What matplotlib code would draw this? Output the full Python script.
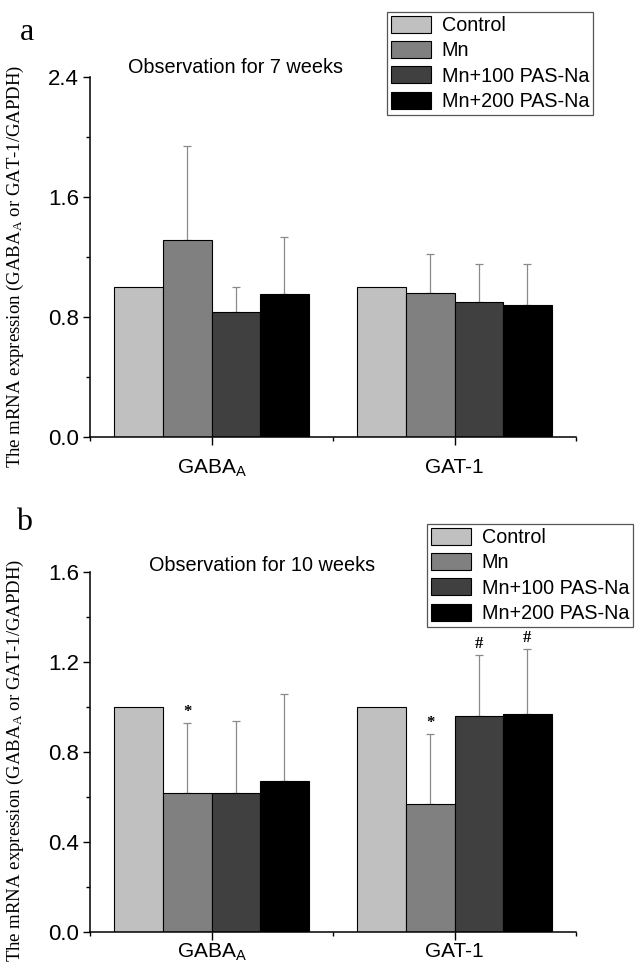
import numpy as np
import matplotlib.pyplot as plt
from matplotlib.ticker import MultipleLocator

groups = [r"GABA$_\mathregular{A}$", "GAT-1"]
treatments = ["Control", "Mn", "Mn+100 PAS-Na", "Mn+200 PAS-Na"]
colors = ["#c0c0c0", "#808080", "#404040", "#000000"]

# 7 weeks: mean and upper error per treatment, [GABA_A, GAT-1]
mean_7w = {
    "Control": [1.00, 1.00],
    "Mn": [1.31, 0.96],
    "Mn+100 PAS-Na": [0.83, 0.90],
    "Mn+200 PAS-Na": [0.95, 0.88],
}
err_7w = {
    "Control": [0.0, 0.0],
    "Mn": [0.63, 0.26],
    "Mn+100 PAS-Na": [0.17, 0.25],
    "Mn+200 PAS-Na": [0.38, 0.27],
}

# 10 weeks
mean_10w = {
    "Control": [1.00, 1.00],
    "Mn": [0.62, 0.57],
    "Mn+100 PAS-Na": [0.62, 0.96],
    "Mn+200 PAS-Na": [0.67, 0.97],
}
err_10w = {
    "Control": [0.0, 0.0],
    "Mn": [0.31, 0.31],
    "Mn+100 PAS-Na": [0.32, 0.27],
    "Mn+200 PAS-Na": [0.39, 0.29],
}
# significance marks placed above the error bars
marks_10w = {
    "Mn": ["*", "*"],
    "Mn+100 PAS-Na": ["", "#"],
    "Mn+200 PAS-Na": ["", "#"],
}

plt.rcParams['font.family'] = ['Liberation Sans', 'DejaVu Sans']
plt.rcParams['mathtext.fontset'] = 'custom'
plt.rcParams['mathtext.rm'] = 'Liberation Sans'

fig = plt.figure(figsize=(6.41, 9.63), dpi=100)
W, H = 641, 963


def px_axes(l, t, r, b):
    return fig.add_axes([l / W, 1 - b / H, (r - l) / W, (b - t) / H])


def draw_panel(ax, means, errs, ymax, major, minor, title, title_x, title_y,
               xpad, label_y, marks=None):
    x = np.arange(1, len(groups) + 1)
    width = 0.2
    offsets = [-0.3, -0.1, 0.1, 0.3]
    handles = []
    for t, c, off in zip(treatments, colors, offsets):
        b = ax.bar(x + off, means[t], width, color=c, edgecolor='black',
                   linewidth=0.8, label=t, zorder=2)
        handles.append(b)
        e = np.array(errs[t])
        if e.max() > 0:
            ax.errorbar(x + off, means[t], yerr=[np.zeros_like(e), e], fmt='none',
                        ecolor='#8a8a8a', elinewidth=0.9, capsize=3, capthick=0.9,
                        zorder=1)
        if marks and t in marks:
            for xi, m, e_i, mu in zip(x + off, marks[t], e, means[t]):
                if m:
                    ax.text(xi, mu + e_i + ymax * 0.008, m, ha='center', va='bottom',
                            fontsize=12, fontweight='bold', family='Liberation Serif')
    ax.set_xlim(0.5, 2.5)
    ax.set_ylim(0, ymax)
    ax.set_xticks(x)
    ax.set_xticklabels(groups, fontsize=15)
    ax.xaxis.set_minor_locator(MultipleLocator(0.5))
    ax.yaxis.set_major_locator(MultipleLocator(major))
    ax.yaxis.set_minor_locator(MultipleLocator(minor))
    ax.yaxis.set_major_formatter(plt.FuncFormatter(lambda v, p: f"{v:.1f}"))
    ax.tick_params(axis='y', labelsize=16, length=5, width=1, direction='out', pad=3)
    ax.tick_params(axis='y', which='minor', length=3, width=1)
    ax.tick_params(axis='x', length=6, width=1, direction='out', pad=xpad)
    ax.tick_params(axis='x', which='minor', length=3, width=1)
    for s in ['top', 'right']:
        ax.spines[s].set_visible(False)
    for s in ['left', 'bottom']:
        ax.spines[s].set_linewidth(1.1)
    ax.set_ylabel("The mRNA expression (GABA$\\mathregular{_A}$ or GAT-1/GAPDH)",
                  family='Liberation Serif', fontsize=13.5)
    ax.yaxis.set_label_coords(-0.132, label_y)
    ax.text(title_x, title_y, title, transform=ax.transAxes, ha='center',
            va='baseline', fontsize=14.3)
    return handles


ax_a = px_axes(90, 77, 576, 437)
h_a = draw_panel(ax_a, mean_7w, err_7w, 2.4, 0.8, 0.4,
                 "Observation for 7 weeks", 0.30, 1.011, 9, 0.475)
ax_b = px_axes(90, 572, 576, 932)
h_b = draw_panel(ax_b, mean_10w, err_10w, 1.6, 0.4, 0.2,
                 "Observation for 10 weeks", 0.354, 1.003, 1, 0.478, marks_10w)

leg_kw = dict(loc='upper right', bbox_transform=fig.transFigure, fontsize=14.2,
              frameon=True, fancybox=False, edgecolor='#555555', framealpha=1,
              borderaxespad=0, borderpad=0.2, handlelength=2.0, handleheight=0.95,
              handletextpad=0.55, labelspacing=0.3)
la = ax_a.legend(handles=h_a, labels=treatments, bbox_to_anchor=(593 / W, 1 - 12 / H), **leg_kw)
la.get_frame().set_linewidth(0.9)
lb = ax_b.legend(handles=h_b, labels=treatments, bbox_to_anchor=(633 / W, 1 - 524 / H), **leg_kw)
lb.get_frame().set_linewidth(0.9)

fig.text(20 / W, 1 - 32 / H, "a", family='Liberation Serif', fontsize=23,
         ha='left', va='center')
fig.text(16 / W, 1 - 523 / H, "b", family='Liberation Serif', fontsize=23,
         ha='left', va='center')

fig.savefig("out.png", dpi=100)
